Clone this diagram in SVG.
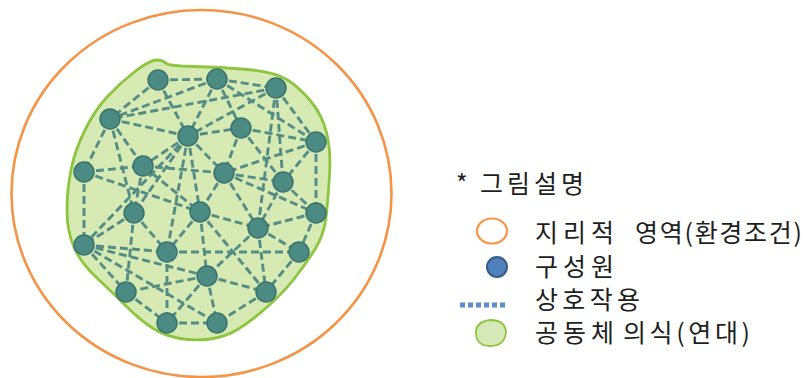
<svg xmlns="http://www.w3.org/2000/svg" width="805" height="378" viewBox="0 0 805 378">
<style>
.e{stroke:#538d85;stroke-width:2.9;stroke-dasharray:8 4;fill:none}
.n{fill:#4b8b84;stroke:#3a746e;stroke-width:1.5}
.t{font-family:"Noto Sans CJK KR","Noto Sans",sans-serif;font-size:25px;fill:#1e1e1e}
</style>
<rect width="805" height="378" fill="#fff"/>
<g id="region">
<ellipse cx="201.5" cy="193.5" rx="190" ry="183.5" fill="none" stroke="#f39446" stroke-width="2.6"/>
</g>
<g id="solidarity">
<path d="M 156.5,60 Q 163,60 165.5,63 Q 168,66 194,66.5 Q 220,67 247.5,69.5 Q 275,72 287.5,80 Q 300,88 311,101.5 Q 322,115 326.5,132.5 Q 331,150 329.5,175 Q 328,200 326,217.5 Q 324,235 314.5,250 Q 305,265 294,279 Q 283,293 266.5,307.5 Q 250,322 237.5,329.5 Q 225,337 210,339 Q 195,341 180,338.5 Q 165,336 152.5,328 Q 140,320 126,306 Q 112,292 96,277 Q 80,262 73.5,246 Q 67,230 67,210 Q 67,190 71,170 Q 75,150 85,130 Q 95,110 107.5,96.5 Q 120,83 135,71.5 Q 150,60 156.5,60 Z" fill="#d8eab4" stroke="#8cc63f" stroke-width="2.8"/>
</g>
<g id="connectors">
<line class="e" x1="158" y1="80" x2="217" y2="79"/>
<line class="e" x1="158" y1="80" x2="110" y2="119"/>
<line class="e" x1="158" y1="80" x2="188" y2="136"/>
<line class="e" x1="217" y1="79" x2="276" y2="88"/>
<line class="e" x1="217" y1="79" x2="110" y2="119"/>
<line class="e" x1="217" y1="79" x2="188" y2="136"/>
<line class="e" x1="217" y1="79" x2="241" y2="128"/>
<line class="e" x1="217" y1="79" x2="316" y2="142"/>
<line class="e" x1="276" y1="88" x2="110" y2="119"/>
<line class="e" x1="276" y1="88" x2="188" y2="136"/>
<line class="e" x1="276" y1="88" x2="316" y2="142"/>
<line class="e" x1="276" y1="88" x2="283" y2="182"/>
<line class="e" x1="276" y1="88" x2="258" y2="228"/>
<line class="e" x1="110" y1="119" x2="188" y2="136"/>
<line class="e" x1="110" y1="119" x2="84" y2="172"/>
<line class="e" x1="110" y1="119" x2="143" y2="166"/>
<line class="e" x1="110" y1="119" x2="134" y2="213"/>
<line class="e" x1="188" y1="136" x2="241" y2="128"/>
<line class="e" x1="188" y1="136" x2="143" y2="166"/>
<line class="e" x1="188" y1="136" x2="224" y2="173"/>
<line class="e" x1="188" y1="136" x2="134" y2="213"/>
<line class="e" x1="188" y1="136" x2="200" y2="212"/>
<line class="e" x1="188" y1="136" x2="84" y2="245"/>
<line class="e" x1="188" y1="136" x2="167" y2="252"/>
<line class="e" x1="241" y1="128" x2="316" y2="142"/>
<line class="e" x1="241" y1="128" x2="224" y2="173"/>
<line class="e" x1="241" y1="128" x2="283" y2="182"/>
<line class="e" x1="316" y1="142" x2="224" y2="173"/>
<line class="e" x1="316" y1="142" x2="283" y2="182"/>
<line class="e" x1="316" y1="142" x2="316" y2="213"/>
<line class="e" x1="84" y1="172" x2="143" y2="166"/>
<line class="e" x1="84" y1="172" x2="200" y2="212"/>
<line class="e" x1="84" y1="172" x2="84" y2="245"/>
<line class="e" x1="143" y1="166" x2="224" y2="173"/>
<line class="e" x1="143" y1="166" x2="134" y2="213"/>
<line class="e" x1="143" y1="166" x2="200" y2="212"/>
<line class="e" x1="224" y1="173" x2="283" y2="182"/>
<line class="e" x1="224" y1="173" x2="316" y2="213"/>
<line class="e" x1="224" y1="173" x2="200" y2="212"/>
<line class="e" x1="224" y1="173" x2="258" y2="228"/>
<line class="e" x1="283" y1="182" x2="316" y2="213"/>
<line class="e" x1="283" y1="182" x2="258" y2="228"/>
<line class="e" x1="316" y1="213" x2="258" y2="228"/>
<line class="e" x1="316" y1="213" x2="299" y2="252"/>
<line class="e" x1="134" y1="213" x2="84" y2="245"/>
<line class="e" x1="134" y1="213" x2="167" y2="252"/>
<line class="e" x1="134" y1="213" x2="126" y2="292"/>
<line class="e" x1="200" y1="212" x2="258" y2="228"/>
<line class="e" x1="200" y1="212" x2="167" y2="252"/>
<line class="e" x1="200" y1="212" x2="207" y2="276"/>
<line class="e" x1="200" y1="212" x2="266" y2="292"/>
<line class="e" x1="258" y1="228" x2="299" y2="252"/>
<line class="e" x1="258" y1="228" x2="207" y2="276"/>
<line class="e" x1="258" y1="228" x2="266" y2="292"/>
<line class="e" x1="84" y1="245" x2="167" y2="252"/>
<line class="e" x1="84" y1="245" x2="126" y2="292"/>
<line class="e" x1="84" y1="245" x2="207" y2="276"/>
<line class="e" x1="84" y1="245" x2="217" y2="323"/>
<line class="e" x1="167" y1="252" x2="299" y2="252"/>
<line class="e" x1="167" y1="252" x2="167" y2="323"/>
<line class="e" x1="299" y1="252" x2="266" y2="292"/>
<line class="e" x1="207" y1="276" x2="126" y2="292"/>
<line class="e" x1="207" y1="276" x2="266" y2="292"/>
<line class="e" x1="207" y1="276" x2="167" y2="323"/>
<line class="e" x1="207" y1="276" x2="217" y2="323"/>
<line class="e" x1="126" y1="292" x2="167" y2="323"/>
<line class="e" x1="266" y1="292" x2="217" y2="323"/>
<line class="e" x1="167" y1="323" x2="217" y2="323"/>
</g>
<g id="nA"><circle class="n" cx="158" cy="80" r="10"/></g>
<g id="nB"><circle class="n" cx="217" cy="79" r="10"/></g>
<g id="nC"><circle class="n" cx="276" cy="88" r="10"/></g>
<g id="nD"><circle class="n" cx="110" cy="119" r="10"/></g>
<g id="nE"><circle class="n" cx="188" cy="136" r="10"/></g>
<g id="nF"><circle class="n" cx="241" cy="128" r="10"/></g>
<g id="nG"><circle class="n" cx="316" cy="142" r="10"/></g>
<g id="nH"><circle class="n" cx="84" cy="172" r="10"/></g>
<g id="nI"><circle class="n" cx="143" cy="166" r="10"/></g>
<g id="nJ"><circle class="n" cx="224" cy="173" r="10"/></g>
<g id="nK"><circle class="n" cx="283" cy="182" r="10"/></g>
<g id="nL"><circle class="n" cx="316" cy="213" r="10"/></g>
<g id="nM"><circle class="n" cx="134" cy="213" r="10"/></g>
<g id="nN"><circle class="n" cx="200" cy="212" r="10"/></g>
<g id="nO"><circle class="n" cx="258" cy="228" r="10"/></g>
<g id="nP"><circle class="n" cx="84" cy="245" r="10"/></g>
<g id="nQ"><circle class="n" cx="167" cy="252" r="10"/></g>
<g id="nR"><circle class="n" cx="299" cy="252" r="10"/></g>
<g id="nS"><circle class="n" cx="207" cy="276" r="10"/></g>
<g id="nT"><circle class="n" cx="126" cy="292" r="10"/></g>
<g id="nU"><circle class="n" cx="266" cy="292" r="10"/></g>
<g id="nV"><circle class="n" cx="167" cy="323" r="10"/></g>
<g id="nW"><circle class="n" cx="217" cy="323" r="10"/></g>
<g id="legend">
<text class="t" x="456" y="193">*</text>
<text class="t" x="480" y="193" textLength="104" lengthAdjust="spacing">그림설명</text>
<ellipse cx="492" cy="231" rx="15" ry="12.5" fill="none" stroke="#f79646" stroke-width="2.2"/>
<text class="t" x="535" y="242" textLength="79" lengthAdjust="spacing">지리적</text>
<text class="t" x="635" y="242" textLength="167" lengthAdjust="spacing">영역(환경조건)</text>
<circle cx="497" cy="267" r="10" fill="#4f81bd" stroke="#385d8a" stroke-width="2"/>
<text class="t" x="535" y="276" textLength="79" lengthAdjust="spacing">구성원</text>
<line x1="460" y1="305" x2="505" y2="305" stroke="#5b8ccc" stroke-width="5" stroke-dasharray="5 3"/>
<text class="t" x="535" y="309" textLength="105" lengthAdjust="spacing">상호작용</text>
<path d="M 476,334 Q 475,322 490,320 Q 505,320 506,332 Q 505,346 490,346 Q 477,346 476,334 Z" fill="#d7e8b8" stroke="#8cc63f" stroke-width="1.8"/>
<text class="t" x="535" y="342" textLength="79" lengthAdjust="spacing">공동체</text>
<text class="t" x="623" y="342" textLength="127" lengthAdjust="spacing">의식(연대)</text>
</g>
</svg>
